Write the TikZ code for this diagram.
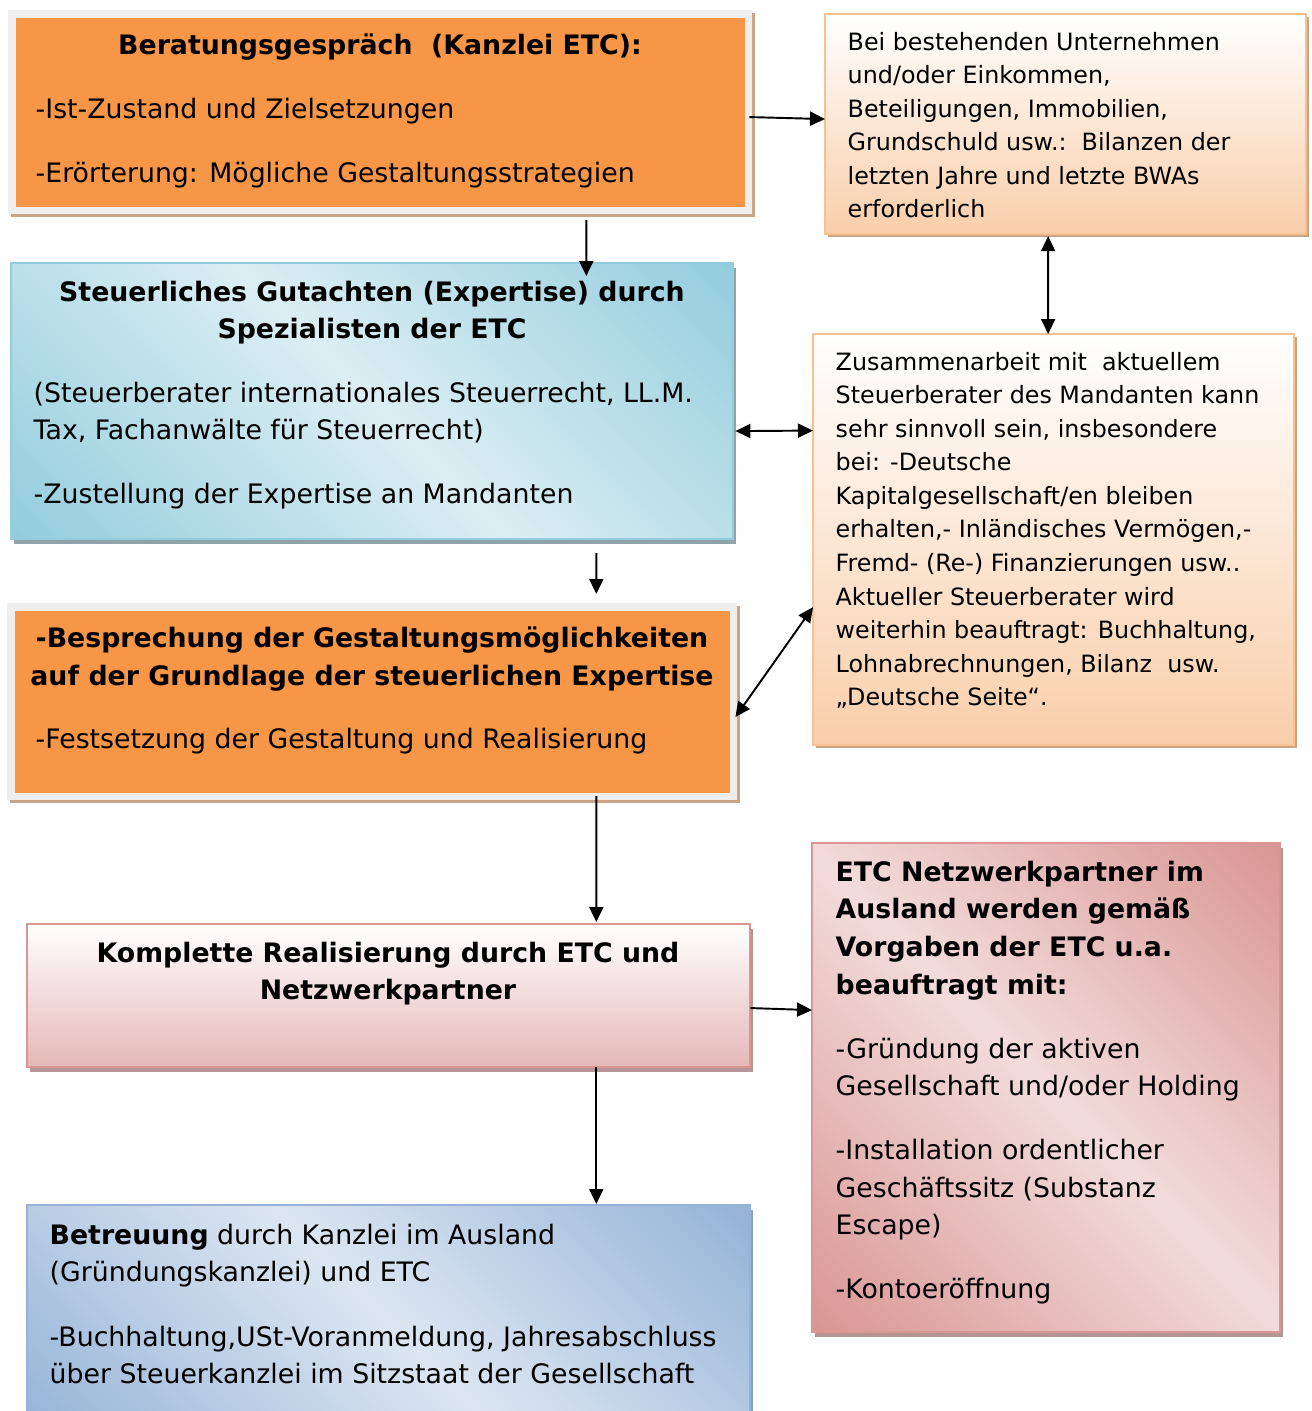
\documentclass[tikz,border=0pt]{standalone}
\usepackage{fontspec}
\setmainfont{DejaVu Sans}
\usetikzlibrary{arrows.meta, shadows}

\definecolor{etcorange}{HTML}{F79646}
\definecolor{framegray}{HTML}{EEEEEE}
\definecolor{tanshadow}{HTML}{C9A487}
\definecolor{peachline}{HTML}{FAC090}
\definecolor{peachfill}{HTML}{F9CEAA}
\definecolor{tealline}{HTML}{93CDDD}
\definecolor{tealdark}{HTML}{93CDDD}
\definecolor{teallight}{HTML}{DCEEF3}
\definecolor{tealshadow}{HTML}{8FA3AA}
\definecolor{roseline}{HTML}{D99694}
\definecolor{rosefill}{HTML}{E5B8B7}
\definecolor{rosedark}{HTML}{D99694}
\definecolor{roselight}{HTML}{F2DCDB}
\definecolor{roseshadow}{HTML}{B59494}
\definecolor{steelline}{HTML}{95B3D7}
\definecolor{steeldark}{HTML}{95B3D7}
\definecolor{steellight}{HTML}{DCE6F2}
\definecolor{steelshadow}{HTML}{8FA2B8}

\pgfdeclarehorizontalshading{tealband}{100bp}{color(0bp)=(tealdark); color(15bp)=(tealdark); color(50bp)=(teallight); color(85bp)=(tealdark); color(100bp)=(tealdark)}
\pgfdeclarehorizontalshading{roseband}{100bp}{color(0bp)=(rosedark); color(15bp)=(rosedark); color(50bp)=(roselight); color(85bp)=(rosedark); color(100bp)=(rosedark)}
\pgfdeclarehorizontalshading{steelband}{100bp}{color(0bp)=(steeldark); color(15bp)=(steeldark); color(50bp)=(steellight); color(85bp)=(steeldark); color(100bp)=(steeldark)}

\newcommand\lgfont{\fontsize{7.61pt}{10.67pt}\selectfont}
\newcommand\smfont{\fontsize{6.77pt}{9.53pt}\selectfont}

\begin{document}
\begin{tikzpicture}[x=0.01cm, y=-0.01cm,
    box/.style = {rectangle, anchor=north west, inner sep=0, outer sep=0},
    orangebox/.style = {box, fill=framegray,
        path picture={\fill[etcorange] ([shift={(0.075cm,-0.075cm)}]path picture bounding box.north west) rectangle ([shift={(-0.075cm,0.075cm)}]path picture bounding box.south east);},
        drop shadow={shadow xshift=0.03cm, shadow yshift=-0.03cm, fill=tanshadow, opacity=1}},
    peachbox/.style = {box, draw=peachline, line width=0.6pt, top color=white, bottom color=peachfill,
        drop shadow={shadow xshift=0.03cm, shadow yshift=-0.03cm, fill=tanshadow, opacity=1}},
    tealbox/.style = {box, draw=tealline, line width=0.6pt, shading=tealband, shading angle=45,
        drop shadow={shadow xshift=0.03cm, shadow yshift=-0.05cm, fill=tealshadow, opacity=1}},
    rosebox/.style = {box, draw=roseline, line width=0.6pt, top color=white, bottom color=rosefill,
        drop shadow={shadow xshift=0.03cm, shadow yshift=-0.05cm, fill=roseshadow, opacity=1}},
    rosebandbox/.style = {box, draw=roseline, line width=0.6pt, shading=roseband, shading angle=45,
        drop shadow={shadow xshift=0.03cm, shadow yshift=-0.05cm, fill=roseshadow, opacity=1}},
    steelbox/.style = {box, draw=steelline, line width=0.6pt, shading=steelband, shading angle=45,
        drop shadow={shadow xshift=0.03cm, shadow yshift=-0.05cm, fill=steelshadow, opacity=1}},
    txt/.style = {anchor=north west, inner sep=0, align=left, font=\lgfont},
    smtxt/.style = {txt, font=\smfont},
    ttl/.style = {anchor=north, inner sep=0, align=center, font=\lgfont\bfseries},
    link/.style = {-{Triangle[length=0.15cm, width=0.14cm]}, line width=0.55pt},
    both/.style = {{Triangle[length=0.15cm, width=0.14cm]}-{Triangle[length=0.15cm, width=0.14cm]}, line width=0.55pt}]
    \useasboundingbox (0,0) rectangle (1311,1411);
    \clip (0,0) rectangle (1311,1411);

    \node[orangebox, minimum width=7.44cm, minimum height=2.04cm] (1) at (8,10) {};
    \node[peachbox, minimum width=4.81cm, minimum height=2.20cm] (2) at (825,14) {};
    \node[tealbox, minimum width=7.22cm, minimum height=2.76cm] (3) at (11,263) {};
    \node[peachbox, minimum width=4.81cm, minimum height=4.11cm] (4) at (813,334) {};
    \node[orangebox, minimum width=7.30cm, minimum height=1.97cm] (5) at (7,603) {};
    \node[rosebox, minimum width=7.23cm, minimum height=1.43cm] (6) at (27,924) {};
    \node[rosebandbox, minimum width=4.68cm, minimum height=4.89cm] (7) at (812,843) {};
    \node[steelbox, minimum width=7.23cm, minimum height=2.35cm] (8) at (27,1205) {};

    \node[ttl] (1t) at (380,33.4) {Beratungsgespräch\ \ (Kanzlei ETC):};
    \node[txt] (1b) at (35,97.4) {-Ist-Zustand und Zielsetzungen\\[0.265cm]-Erörterung: Mögliche Gestaltungsstrategien};
    \node[smtxt] (2t) at (847,31.6) {Bei bestehenden Unternehmen\\und/oder Einkommen,\\Beteiligungen, Immobilien,\\Grundschuld usw.:\ \ Bilanzen der\\letzten Jahre und letzte BWAs\\erforderlich};
    \node[ttl] (3t) at (372,280.4) {Steuerliches Gutachten (Expertise) durch\\Spezialisten der ETC};
    \node[txt] (3b) at (33,381.4) {(Steuerberater internationales Steuerrecht, LL.M.\\Tax, Fachanwälte für Steuerrecht)\\[0.255cm]-Zustellung der Expertise an Mandanten};
    \node[smtxt] (4t) at (835,351.6) {Zusammenarbeit mit\ \ aktuellem\\Steuerberater des Mandanten kann\\sehr sinnvoll sein, insbesondere\\bei: -Deutsche\\Kapitalgesellschaft/en bleiben\\erhalten,- Inländisches Vermögen,-\\Fremd- (Re-) Finanzierungen usw..\\Aktueller Steuerberater wird\\weiterhin beauftragt: Buchhaltung,\\Lohnabrechnungen, Bilanz\ \ usw.\\„Deutsche Seite“.};
    \node[ttl] (5t) at (372,626.4) {-Besprechung der Gestaltungsmöglichkeiten\\auf der Grundlage der steuerlichen Expertise};
    \node[txt] (5b) at (35,727.4) {-Festsetzung der Gestaltung und Realisierung};
    \node[ttl] (6t) at (388,941.4) {Komplette Realisierung durch ETC und\\Netzwerkpartner};
    \node[txt] (7t) at (835,860.4) {\textbf{ETC Netzwerkpartner im}\\\textbf{Ausland werden gemäß}\\\textbf{Vorgaben der ETC u.a.}\\\textbf{beauftragt mit:}\\[0.265cm]-Gründung der aktiven\\Gesellschaft und/oder Holding\\[0.265cm]-Installation ordentlicher\\Geschäftssitz (Substanz\\Escape)\\[0.265cm]-Kontoeröffnung};
    \node[txt] (8t) at (49,1223.4) {\textbf{Betreuung} durch Kanzlei im Ausland\\(Gründungskanzlei) und ETC\\[0.265cm]-Buchhaltung,USt-Voranmeldung, Jahresabschluss\\über Steuerkanzlei im Sitzstaat der Gesellschaft};

    \draw[link] ([xshift=-0.03cm, yshift=-0.05cm]1.east) -- ([yshift=0.05cm]2.west);
    \draw[link] ([xshift=2.06cm, yshift=-0.06cm]1.south) -- ([xshift=2.14cm, yshift=-0.13cm]3.north);
    \draw[both] ([xshift=-0.175cm, yshift=-0.02cm]2.south) -- ([xshift=-0.055cm]4.north);
    \draw[both] ([xshift=0.02cm, yshift=-0.30cm]3.east) -- ([yshift=1.09cm]4.west);
    \draw[link] ([xshift=2.24cm, yshift=-0.14cm]3.south) -- ([xshift=2.24cm, yshift=0.09cm]5.north);
    \draw[both] ([xshift=-0.02cm, yshift=-0.155cm]5.east) -- ([yshift=-0.675cm]4.west);
    \draw[link] ([xshift=2.24cm, yshift=0.04cm]5.south) -- ([xshift=2.075cm, yshift=0.02cm]6.north);
    \draw[link] ([yshift=-0.125cm]6.east) -- ([yshift=0.775cm]7.west);
    \draw[link] ([xshift=2.075cm]6.south) -- ([xshift=2.075cm, yshift=0.01cm]8.north);
\end{tikzpicture}
\end{document}
